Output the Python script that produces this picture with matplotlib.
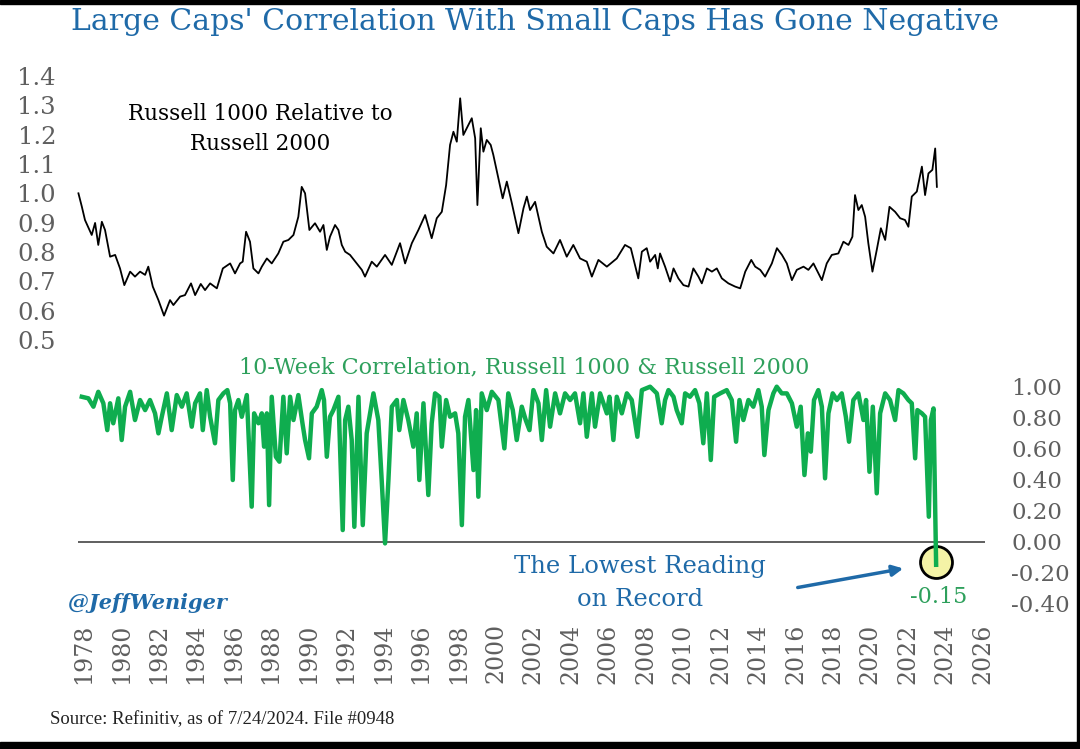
import matplotlib
matplotlib.use("Agg")
import matplotlib.pyplot as plt
from matplotlib.patches import Rectangle

plt.rcParams['font.family'] = ['DejaVu Serif']

# Russell 1000 / Russell 2000 relative ratio
ratio_years = [1977.72, 1977.90, 1978.07, 1978.43, 1978.61, 1978.78, 1978.97, 1979.14, 1979.41, 1979.68,
               1979.94, 1980.17, 1980.48, 1980.74, 1981.01, 1981.28, 1981.45, 1981.69, 1981.99, 1982.29,
               1982.61, 1982.79, 1983.15, 1983.41, 1983.73, 1983.95, 1984.25, 1984.48, 1984.75, 1985.11,
               1985.43, 1985.82, 1986.08, 1986.35, 1986.49, 1986.67, 1986.88, 1987.06, 1987.33, 1987.51,
               1987.78, 1988.04, 1988.39, 1988.66, 1988.93, 1989.20, 1989.46, 1989.64, 1989.82, 1990.05,
               1990.35, 1990.62, 1990.80, 1990.98, 1991.15, 1991.42, 1991.60, 1991.78, 1991.96, 1992.22,
               1992.58, 1992.85, 1993.02, 1993.38, 1993.65, 1994.09, 1994.45, 1994.89, 1995.16, 1995.52,
               1995.87, 1996.23, 1996.58, 1996.85, 1997.12, 1997.35, 1997.56, 1997.74, 1997.92, 1998.10,
               1998.27, 1998.54, 1998.72, 1998.90, 1999.02, 1999.20, 1999.34, 1999.52, 1999.73, 1999.87,
               2000.14, 2000.37, 2000.59, 2000.86, 2001.21, 2001.48, 2001.66, 2001.83, 2002.10, 2002.46,
               2002.72, 2003.08, 2003.43, 2003.79, 2004.14, 2004.50, 2004.86, 2005.13, 2005.48, 2005.93,
               2006.46, 2006.90, 2007.21, 2007.39, 2007.61, 2007.80, 2008.06, 2008.24, 2008.51, 2008.65,
               2008.77, 2009.04, 2009.31, 2009.49, 2009.75, 2010.02, 2010.29, 2010.55, 2010.82, 2011.00,
               2011.27, 2011.54, 2011.80, 2012.07, 2012.42, 2012.78, 2013.05, 2013.32, 2013.64, 2013.85,
               2014.12, 2014.38, 2014.74, 2015.01, 2015.28, 2015.54, 2015.81, 2016.07, 2016.43, 2016.69,
               2016.96, 2017.23, 2017.41, 2017.67, 2017.94, 2018.29, 2018.56, 2018.83, 2019.04, 2019.18,
               2019.36, 2019.54, 2019.72, 2019.89, 2020.11, 2020.34, 2020.56, 2020.79, 2021.02, 2021.32,
               2021.59, 2021.85, 2022.03, 2022.21, 2022.48, 2022.75, 2022.92, 2023.10, 2023.31, 2023.46,
               2023.55]
ratio = [1.000, 0.955, 0.909, 0.858, 0.899, 0.824, 0.903, 0.875, 0.784, 0.790,
         0.744, 0.687, 0.733, 0.716, 0.733, 0.722, 0.750, 0.682, 0.636, 0.583,
         0.636, 0.619, 0.648, 0.653, 0.693, 0.653, 0.691, 0.670, 0.693, 0.676,
         0.744, 0.761, 0.727, 0.761, 0.767, 0.869, 0.835, 0.744, 0.727, 0.750,
         0.778, 0.761, 0.795, 0.835, 0.841, 0.858, 0.920, 1.022, 1.000, 0.875,
         0.898, 0.869, 0.892, 0.807, 0.852, 0.892, 0.875, 0.824, 0.801, 0.790,
         0.761, 0.739, 0.716, 0.767, 0.750, 0.790, 0.756, 0.830, 0.761, 0.830,
         0.875, 0.926, 0.847, 0.915, 0.937, 1.028, 1.165, 1.210, 1.176, 1.324,
         1.199, 1.233, 1.256, 1.188, 0.960, 1.222, 1.142, 1.182, 1.165, 1.131,
         1.051, 0.983, 1.040, 0.966, 0.864, 0.949, 0.989, 0.943, 0.971, 0.869,
         0.818, 0.795, 0.841, 0.784, 0.824, 0.778, 0.767, 0.716, 0.773, 0.750,
         0.778, 0.824, 0.813, 0.767, 0.710, 0.801, 0.813, 0.767, 0.790, 0.744,
         0.795, 0.750, 0.699, 0.744, 0.710, 0.687, 0.682, 0.744, 0.716, 0.693,
         0.744, 0.733, 0.744, 0.710, 0.693, 0.682, 0.676, 0.733, 0.773, 0.750,
         0.739, 0.716, 0.761, 0.813, 0.790, 0.761, 0.704, 0.739, 0.750, 0.739,
         0.761, 0.727, 0.704, 0.761, 0.790, 0.795, 0.835, 0.824, 0.852, 0.994,
         0.943, 0.960, 0.920, 0.830, 0.733, 0.807, 0.881, 0.841, 0.954, 0.937,
         0.915, 0.909, 0.886, 0.989, 1.006, 1.091, 0.994, 1.068, 1.080, 1.153,
         1.022]

# 10-week correlation, Russell 1000 & Russell 2000
corr_years = [1977.90, 1978.25, 1978.52, 1978.78, 1979.05, 1979.26, 1979.41, 1979.58, 1979.85, 1980.03,
              1980.21, 1980.48, 1980.74, 1981.01, 1981.28, 1981.54, 1981.81, 1981.99, 1982.17, 1982.44,
              1982.70, 1982.97, 1983.24, 1983.50, 1983.77, 1983.95, 1984.21, 1984.36, 1984.57, 1984.75,
              1985.01, 1985.19, 1985.46, 1985.67, 1985.82, 1985.96, 1986.08, 1986.26, 1986.44, 1986.71,
              1986.97, 1987.10, 1987.33, 1987.51, 1987.63, 1987.78, 1987.90, 1988.04, 1988.26, 1988.45,
              1988.66, 1988.84, 1989.02, 1989.20, 1989.46, 1989.68, 1989.82, 1990.03, 1990.18, 1990.44,
              1990.71, 1990.83, 1990.98, 1991.15, 1991.33, 1991.60, 1991.83, 1991.96, 1992.13, 1992.31,
              1992.45, 1992.67, 1992.90, 1993.11, 1993.47, 1993.73, 1993.91, 1994.09, 1994.27, 1994.45,
              1994.72, 1994.85, 1995.07, 1995.33, 1995.60, 1995.78, 1995.92, 1996.14, 1996.40, 1996.58,
              1996.76, 1996.99, 1997.12, 1997.35, 1997.56, 1997.83, 1998.00, 1998.19, 1998.36, 1998.54,
              1998.81, 1998.95, 1999.07, 1999.25, 1999.52, 1999.79, 2000.14, 2000.46, 2000.67, 2000.91,
              2001.12, 2001.39, 2001.60, 2001.80, 2002.01, 2002.28, 2002.46, 2002.69, 2002.90, 2003.17,
              2003.43, 2003.70, 2003.97, 2004.23, 2004.50, 2004.68, 2004.86, 2005.13, 2005.30, 2005.57,
              2005.93, 2006.07, 2006.28, 2006.46, 2006.73, 2007.00, 2007.26, 2007.56, 2007.80, 2008.24,
              2008.60, 2008.86, 2009.04, 2009.22, 2009.49, 2009.66, 2009.93, 2010.11, 2010.37, 2010.64,
              2010.87, 2011.08, 2011.27, 2011.48, 2011.66, 2011.98, 2012.33, 2012.60, 2012.83, 2013.01,
              2013.22, 2013.49, 2013.75, 2014.02, 2014.20, 2014.34, 2014.56, 2014.82, 2015.00, 2015.27,
              2015.54, 2015.81, 2016.07, 2016.28, 2016.48, 2016.66, 2016.82, 2016.99, 2017.22, 2017.41,
              2017.58, 2017.76, 2017.99, 2018.21, 2018.47, 2018.69, 2018.86, 2019.09, 2019.36, 2019.63,
              2019.77, 2019.95, 2020.13, 2020.34, 2020.52, 2020.79, 2021.05, 2021.32, 2021.50, 2021.76,
              2022.03, 2022.21, 2022.39, 2022.51, 2022.75, 2022.92, 2023.12, 2023.23, 2023.37, 2023.51]
corr = [0.934, 0.924, 0.870, 0.966, 0.892, 0.719, 0.892, 0.763, 0.924, 0.655,
        0.870, 0.966, 0.784, 0.913, 0.848, 0.913, 0.827, 0.698, 0.805, 0.956,
        0.719, 0.945, 0.870, 0.956, 0.741, 0.892, 0.956, 0.719, 0.977, 0.805,
        0.634, 0.913, 0.956, 0.977, 0.892, 0.397, 0.848, 0.913, 0.805, 0.945,
        0.225, 0.827, 0.763, 0.827, 0.612, 0.827, 0.235, 0.934, 0.547, 0.515,
        0.934, 0.569, 0.934, 0.784, 0.945, 0.763, 0.655, 0.537, 0.827, 0.870,
        0.977, 0.913, 0.547, 0.805, 0.848, 0.934, 0.074, 0.784, 0.870, 0.655,
        0.095, 0.934, 0.106, 0.698, 0.956, 0.784, 0.397, -0.012, 0.397, 0.870,
        0.913, 0.719, 0.913, 0.784, 0.612, 0.827, 0.397, 0.892, 0.300, 0.763,
        0.956, 0.934, 0.612, 0.913, 0.805, 0.827, 0.698, 0.106, 0.805, 0.913,
        0.461, 0.848, 0.289, 0.956, 0.848, 0.966, 0.913, 0.601, 0.956, 0.848,
        0.655, 0.870, 0.784, 0.719, 0.977, 0.892, 0.655, 0.977, 0.741, 0.956,
        0.827, 0.956, 0.913, 0.956, 0.763, 0.956, 0.676, 0.956, 0.741, 0.956,
        0.827, 0.934, 0.655, 0.934, 0.827, 0.956, 0.913, 0.676, 0.977, 0.999,
        0.956, 0.763, 0.913, 0.977, 0.934, 0.848, 0.763, 0.956, 0.934, 0.977,
        0.892, 0.634, 0.956, 0.526, 0.934, 0.956, 0.977, 0.913, 0.644, 0.913,
        0.784, 0.913, 0.870, 0.977, 0.870, 0.558, 0.848, 0.956, 0.999, 0.956,
        0.956, 0.892, 0.741, 0.870, 0.429, 0.698, 0.580, 0.913, 0.977, 0.870,
        0.408, 0.827, 0.956, 0.913, 0.956, 0.805, 0.644, 0.913, 0.956, 0.784,
        0.913, 0.450, 0.870, 0.311, 0.827, 0.956, 0.913, 0.784, 0.977, 0.956,
        0.913, 0.892, 0.537, 0.848, 0.827, 0.805, 0.160, 0.784, 0.859, -0.150]

tick_years = list(range(1978, 2027, 2))
left_ticks = [0.5, 0.6, 0.7, 0.8, 0.9, 1.0, 1.1, 1.2, 1.3, 1.4]
right_ticks = [-0.4, -0.2, 0.0, 0.2, 0.4, 0.6, 0.8, 1.0]

BLUE = '#1f6aa8'
GREEN_LINE = '#0fad4f'
GREEN_TXT = '#2ea05c'
GRAY = '#5f5f5f'

W, H = 1080, 749
fig = plt.figure(figsize=(W / 100, H / 100), dpi=100)
ax = fig.add_axes([70 / W, 1 - 615 / H, 930 / W, 553 / H])
ax2 = ax.twinx()

ax.plot(ratio_years, ratio, color='black', lw=1.3, zorder=3)
ax2.hlines(0, ratio_years[0], 2026.1, color='#444444', lw=1.2, zorder=1)
ax2.plot(corr_years, corr, color=GREEN_LINE, lw=3.2, solid_joinstyle='round', zorder=3)
ax2.plot(corr_years[-1], corr[-1] + 0.02, 'o', ms=23, mfc='#f4f3a6', mec='black', mew=2, zorder=2)

ax.set_xlim(1977.27, 2026.92)
ax.set_ylim(-0.4376, 1.4477)
ax2.set_ylim(-0.474, 3.094)

ax.set_xticks(tick_years)
ax.set_xticklabels([str(y) for y in tick_years], rotation=90)
ax.set_yticks(left_ticks)
ax.set_yticklabels([f"{v:.1f}" for v in left_ticks])
ax2.set_yticks(right_ticks)
ax2.set_yticklabels([f"{v:.2f}" for v in right_ticks])

ax.tick_params(axis='x', length=0, labelsize=17, labelcolor=GRAY, pad=6)
ax.tick_params(axis='y', length=0, labelsize=17.5, labelcolor=GRAY, pad=10)
ax2.tick_params(axis='y', length=0, labelsize=16.5, labelcolor=GRAY, pad=8)
for a in (ax, ax2):
    for s in a.spines.values():
        s.set_visible(False)

# annotations
ax2.annotate('-0.15', xy=(corr_years[-1], corr[-1]), xytext=(2, -23), textcoords='offset points',
             ha='center', va='center', color=GREEN_TXT, fontsize=16)
ax2.annotate('', xy=(906, H - 568), xycoords='figure pixels', xytext=(795, H - 588),
             textcoords='figure pixels',
             arrowprops=dict(arrowstyle='-|>', color=BLUE, lw=2.5, mutation_scale=16))

fig.text(535 / W, 1 - 22 / H, "Large Caps' Correlation With Small Caps Has Gone Negative",
         ha='center', va='center', color=BLUE, fontsize=21.5)
fig.text(260 / W, 1 - 129 / H, "Russell 1000 Relative to\nRussell 2000", ha='center', va='center',
         color='black', fontsize=15.5, linespacing=1.45)
fig.text(524 / W, 1 - 367 / H, "10-Week Correlation, Russell 1000 & Russell 2000", ha='center',
         va='center', color=GREEN_TXT, fontsize=16)
fig.text(640 / W, 1 - 583 / H, "The Lowest Reading\non Record", ha='center', va='center',
         color=BLUE, fontsize=17.5, linespacing=1.55)
fig.text(68 / W, 1 - 603 / H, "@JeffWeniger", ha='left', va='center', color=BLUE,
         fontsize=15, fontweight='bold', fontstyle='italic')
fig.text(50 / W, 1 - 720 / H, "Source: Refinitiv, as of 7/24/2024. File #0948", ha='left',
         va='center', color='#222222', fontsize=13.5, family='Liberation Serif')

# dark frame edges of the screenshot
fig.patches.append(Rectangle((0, 1 - 4 / H), 1, 4 / H, transform=fig.transFigure, color='black'))
fig.patches.append(Rectangle((0, 0), 1, 7 / H, transform=fig.transFigure, color='black'))
fig.patches.append(Rectangle((1 - 3 / W, 0), 3 / W, 1, transform=fig.transFigure, color='black'))

fig.savefig('out.png', dpi=100)
